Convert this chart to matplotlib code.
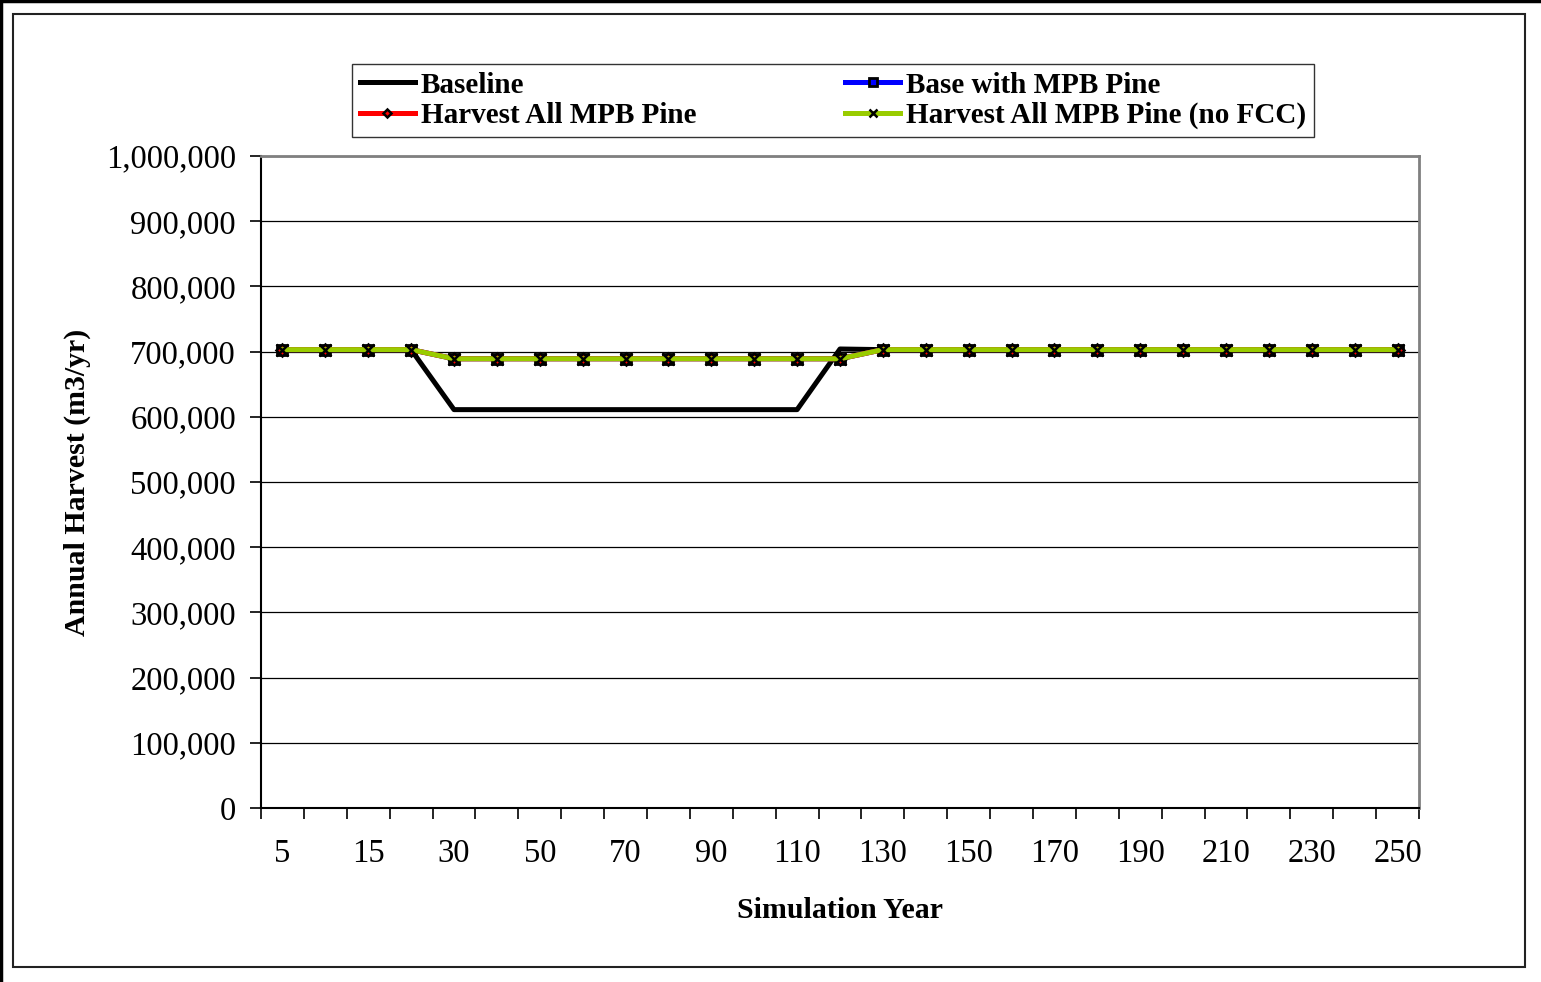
import matplotlib.pyplot as plt
from matplotlib.lines import Line2D
from matplotlib.patches import Rectangle
from matplotlib.ticker import FuncFormatter, FixedLocator

plt.rcParams["font.family"] = ["Liberation Serif", "DejaVu Serif"]

# Simulation years (category axis)
years = [5, 10, 15, 20, 30, 40, 50, 60, 70, 80, 90, 100, 110, 120,
         130, 140, 150, 160, 170, 180, 190, 200, 210, 220, 230, 240, 250]

# Annual harvest (m3/yr) per scenario
baseline = [703000, 703000, 703000, 703000, 611000, 611000, 611000, 611000, 611000,
            611000, 611000, 611000, 611000, 704000, 703000, 703000, 703000, 703000,
            703000, 703000, 703000, 703000, 703000, 703000, 703000, 703000, 703000]
base_mpb = [703000, 703000, 703000, 703000, 689000, 689000, 689000, 689000, 689000,
            689000, 689000, 689000, 689000, 689000, 703000, 703000, 703000, 703000,
            703000, 703000, 703000, 703000, 703000, 703000, 703000, 703000, 703000]
harvest_all = [703000, 703000, 703000, 703000, 689000, 689000, 689000, 689000, 689000,
               689000, 689000, 689000, 689000, 689000, 703000, 703000, 703000, 703000,
               703000, 703000, 703000, 703000, 703000, 703000, 703000, 703000, 703000]
harvest_all_nofcc = [703000, 703000, 703000, 703000, 689000, 689000, 689000, 689000, 689000,
                     689000, 689000, 689000, 689000, 689000, 703000, 703000, 703000, 703000,
                     703000, 703000, 703000, 703000, 703000, 703000, 703000, 703000, 703000]

W, H = 1541, 982
fig = plt.figure(figsize=(W / 100, H / 100), dpi=100)
ax = fig.add_axes([261 / W, 1 - 808 / H, (1419 - 261) / W, (808 - 156) / H])

x = list(range(len(years)))

l_base, = ax.plot(x, baseline, color="black", lw=3.6, zorder=3, label="Baseline")
l_mpb, = ax.plot(x, base_mpb, color="#0000ff", lw=3.6, marker="s", ms=7.5,
                 mfc="#0000ff", mec="black", mew=2, zorder=4, label="Base with MPB Pine")
l_all, = ax.plot(x, harvest_all, color="#ff0000", lw=3.6, marker="D", ms=6,
                 mfc="#ff0000", mec="black", mew=1.8, zorder=5, label="Harvest All MPB Pine")
l_nofcc, = ax.plot(x, harvest_all_nofcc, color="#99cc00", lw=3.6, marker="x", ms=8,
                   mec="black", mew=1.8, zorder=6, label="Harvest All MPB Pine (no FCC)")

# Category axis with ticks between categories, labels on every other year
ax.set_xlim(-0.5, len(years) - 0.5)
ax.xaxis.set_major_locator(FixedLocator([i for i in range(0, len(years), 2)]))
ax.set_xticklabels([str(years[i]) for i in range(0, len(years), 2)])
ax.xaxis.set_minor_locator(FixedLocator([i - 0.5 for i in range(len(years) + 1)]))
ax.tick_params(axis="x", which="major", length=0, pad=22, labelsize=23.5)
ax.tick_params(axis="x", which="minor", length=8, width=1.2, direction="out", color="black")

ax.set_ylim(0, 1000000)
ax.set_yticks(range(0, 1000001, 100000))
ax.yaxis.set_major_formatter(FuncFormatter(lambda v, p: f"{v:,.0f}"))
ax.tick_params(axis="y", length=8, width=1.2, direction="out", pad=10, labelsize=23.5, color="black")

ax.grid(axis="y", color="black", lw=0.9)
ax.set_axisbelow(True)

for side in ["top", "right"]:
    ax.spines[side].set_color("#808080")
    ax.spines[side].set_linewidth(2)
for side in ["left", "bottom"]:
    ax.spines[side].set_color("black")
    ax.spines[side].set_linewidth(1.5)

ax.set_xlabel("Simulation Year", fontsize=21.5, fontweight="bold", labelpad=20)
ax.set_ylabel("Annual Harvest (m3/yr)", fontsize=21.5, fontweight="bold", labelpad=11)

leg = fig.legend([l_base, l_all, l_mpb, l_nofcc],
                 [l.get_label() for l in [l_base, l_all, l_mpb, l_nofcc]],
                 loc="center", bbox_to_anchor=((352 + 1314) / 2 / W, 1 - (62 + 139) / 2 / H),
                 ncol=2, frameon=True, fancybox=False, handlelength=1.9, handletextpad=0.2,
                 columnspacing=5.1, labelspacing=0.12, borderpad=0.25, markerscale=0.7,
                 prop={"family": ["Liberation Serif"], "weight": "bold", "size": 21})
leg.get_frame().set_edgecolor("black")
leg.get_frame().set_linewidth(1.0)

# Chart frame borders
fig.add_artist(Rectangle((13.5 / W, 1 - 967 / H), (1525 - 13.5) / W, (967 - 14) / H,
                         transform=fig.transFigure, fill=False, edgecolor="#222222", lw=1.5))
fig.add_artist(Line2D([0, 1], [1 - 1 / H, 1 - 1 / H], transform=fig.transFigure, color="black", lw=2.5))
fig.add_artist(Line2D([1 / W, 1 / W], [0, 1], transform=fig.transFigure, color="black", lw=2.5))

fig.savefig("out.png", dpi=100)
